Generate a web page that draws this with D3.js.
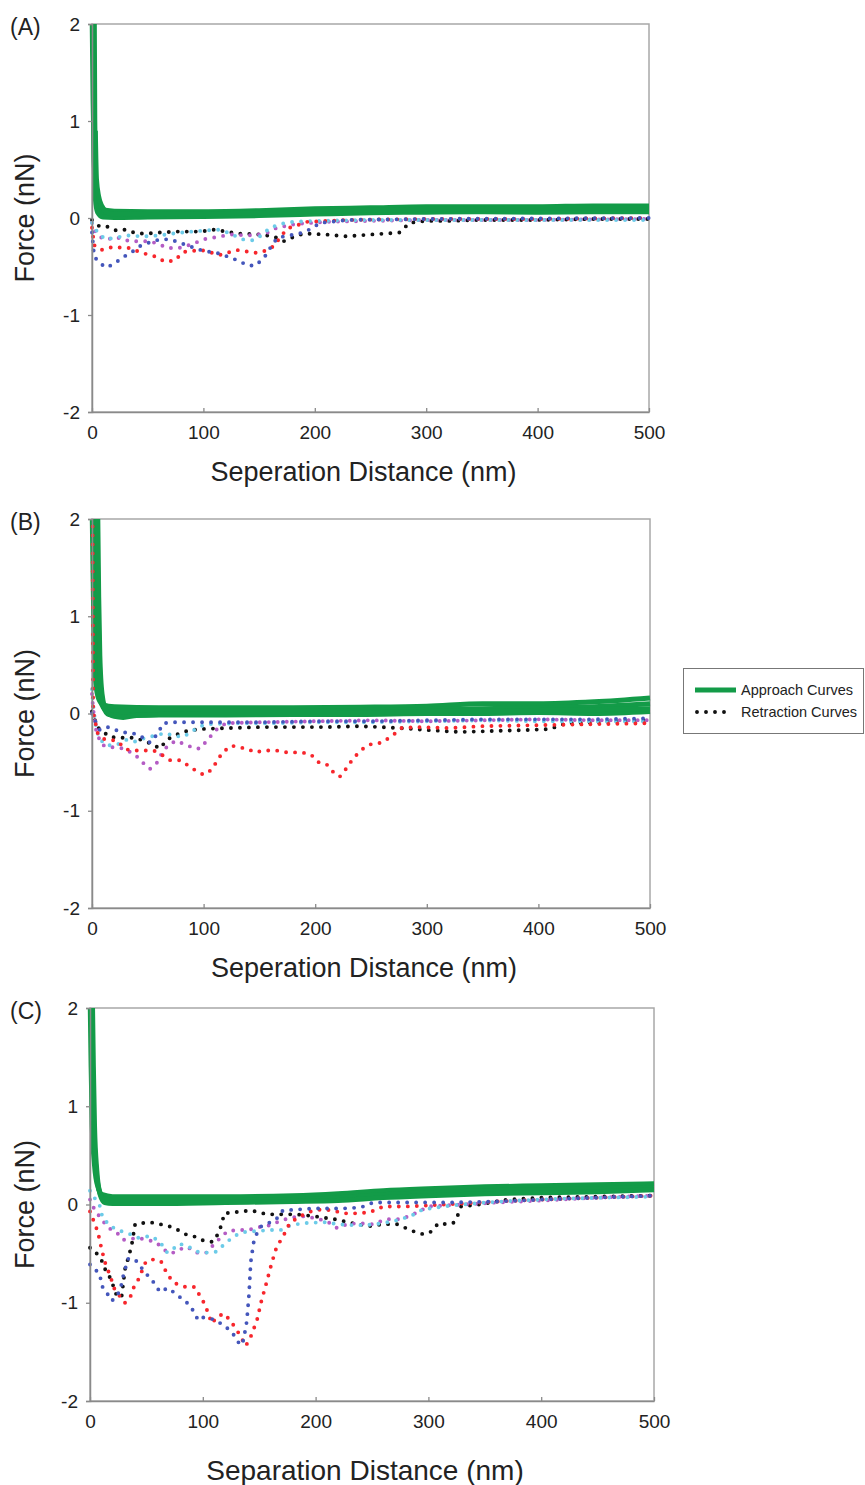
<!DOCTYPE html>
<html>
<head>
<meta charset="utf-8">
<script src="https://cdn.jsdelivr.net/npm/d3@7"></script>
<style>
body { margin: 0; background: #fff; }
svg { display: block; }
text { font-family: "Liberation Sans", Arial, sans-serif; fill: #222; }
</style>
</head>
<body>
<div id="chart"></div>
<script>
var width = 865;
var height = 1485;

var xTicks = [0, 100, 200, 300, 400, 500];
var yTicks = [-2, -1, 0, 1, 2];
var panelNames = ['(A)', '(B)', '(C)'];
var xTitles = ['Seperation Distance (nm)', 'Seperation Distance (nm)', 'Separation Distance (nm)'];
var yTitle = 'Force (nN)';
var legendLabels = ['Approach Curves', 'Retraction Curves'];

// approach curves, [distance nm, force nN]
var approachA1 = [[0,2.2],[1,1.2],[2,0.6],[3,0.35],[5,0.2],[8,0.12],[12,0.08],[20,0.07],[50,0.065],[100,0.065],[150,0.075],[200,0.095],[250,0.105],[300,0.115],[350,0.115],[400,0.115],[450,0.125],[500,0.125]];
var approachA2 = [[2,2.2],[2.5,1],[3,0.5],[4,0.25],[6,0.12],[10,0.05],[20,0.035],[60,0.035],[100,0.04],[150,0.05],[200,0.065],[250,0.075],[300,0.08],[350,0.085],[400,0.085],[450,0.09],[500,0.09]];
var approachA3 = [[1,2.2],[1.5,1.4],[2,0.6],[3,0.2],[5,0.06],[10,0.01],[20,0.005],[50,0.01],[100,0.015],[150,0.025],[200,0.04],[250,0.055],[300,0.06],[350,0.065],[400,0.06],[450,0.065],[500,0.065]];
var approachA4 = [[3,0.9],[4,0.4],[6,0.22],[9,0.12],[13,0.06],[20,0.04],[50,0.035],[100,0.04],[200,0.07],[300,0.09],[400,0.1],[500,0.1]];

var approachB1 = [[0,2.2],[1,1.4],[2,0.7],[3.5,0.3],[6,0.15],[10,0.09],[20,0.07],[60,0.06],[120,0.06],[180,0.06],[240,0.065],[300,0.075],[350,0.1],[400,0.1],[450,0.12],[500,0.16]];
var approachB2 = [[2,2.2],[3,1.5],[4,0.8],[5.5,0.35],[8,0.12],[12,0.04],[25,0.025],[60,0.025],[120,0.025],[180,0.025],[240,0.03],[300,0.04],[350,0.05],[400,0.06],[450,0.07],[500,0.1]];
var approachB3 = [[4,2.2],[5,1.5],[6,0.8],[7.5,0.3],[10,0.08],[15,-0.01],[25,-0.02],[60,-0.015],[120,-0.015],[180,-0.01],[240,-0.01],[300,0],[350,0],[400,0.01],[450,0],[500,0.02]];
var approachB4 = [[5,2.2],[6,1.2],[7,0.6],[9,0.2],[13,0.02],[20,-0.03],[28,-0.04],[40,-0.02],[100,0],[200,0],[300,0.02],[400,0.03],[500,0.05]];

var approachC1 = [[0,2.2],[1,1.4],[2,0.8],[4,0.4],[7,0.18],[11,0.1],[20,0.08],[60,0.08],[120,0.08],[180,0.09],[220,0.11],[260,0.14],[300,0.16],[350,0.18],[400,0.19],[450,0.2],[500,0.21]];
var approachC2 = [[1,2.2],[2,1.5],[3,0.9],[5,0.4],[8,0.15],[12,0.06],[20,0.04],[60,0.04],[120,0.04],[180,0.05],[220,0.07],[260,0.1],[300,0.12],[350,0.14],[400,0.15],[450,0.16],[500,0.17]];
var approachC3 = [[2,2.2],[3,1.4],[4,0.8],[6,0.35],[9,0.1],[13,0.02],[20,0.01],[60,0.01],[120,0.02],[180,0.03],[220,0.04],[260,0.07],[300,0.09],[350,0.11],[400,0.12],[450,0.13],[500,0.15]];

// retraction curves
var retA_black = [[0,-0.02],[7,-0.09],[15,-0.09],[22,-0.13],[30,-0.12],[40,-0.16],[49,-0.16],[60,-0.15],[75,-0.14],[97,-0.14],[110,-0.12],[120,-0.14],[131,-0.16],[150,-0.17],[163,-0.19],[172,-0.24],[180,-0.2],[190,-0.16],[210,-0.17],[229,-0.19],[250,-0.17],[265,-0.16],[276,-0.15],[285,-0.05],[300,-0.03],[320,-0.03],[350,-0.02],[400,-0.02],[450,-0.01],[500,-0.01]];
var retA_red = [[0,-0.1],[2,-0.28],[8,-0.33],[18,-0.3],[34,-0.31],[45,-0.36],[58,-0.4],[65,-0.45],[74,-0.44],[82,-0.35],[98,-0.33],[115,-0.38],[130,-0.33],[148,-0.36],[158,-0.33],[163,-0.29],[175,-0.11],[193,-0.04],[230,-0.02],[300,-0.01],[400,-0.01],[500,0]];
var retA_blue = [[0,-0.15],[2,-0.4],[7,-0.46],[12,-0.51],[19,-0.48],[27,-0.41],[36,-0.35],[43,-0.29],[52,-0.25],[61,-0.22],[70,-0.22],[80,-0.26],[90,-0.3],[100,-0.34],[112,-0.36],[125,-0.41],[133,-0.45],[140,-0.49],[147,-0.49],[155,-0.4],[161,-0.29],[166,-0.21],[175,-0.18],[184,-0.17],[195,-0.12],[205,-0.05],[230,-0.02],[300,-0.01],[500,0]];
var retA_purple = [[0,-0.05],[3,-0.15],[8,-0.2],[13,-0.22],[22,-0.2],[34,-0.24],[43,-0.24],[52,-0.24],[60,-0.27],[68,-0.31],[78,-0.31],[90,-0.27],[100,-0.22],[110,-0.2],[125,-0.17],[139,-0.18],[150,-0.17],[158,-0.15],[166,-0.1],[175,-0.08],[184,-0.06],[210,-0.04],[250,-0.03],[300,-0.02],[400,-0.02],[500,-0.01]];
var retA_cyan = [[0,-0.05],[5,-0.15],[12,-0.22],[22,-0.2],[32,-0.18],[45,-0.19],[60,-0.18],[80,-0.15],[100,-0.13],[113,-0.12],[122,-0.15],[135,-0.22],[145,-0.23],[152,-0.18],[160,-0.1],[170,-0.06],[180,-0.04],[200,-0.03],[250,-0.02],[300,-0.02],[400,-0.02],[500,-0.02]];

var retB_black = [[0,0.02],[2,-0.05],[5,-0.14],[8,-0.17],[16,-0.24],[24,-0.25],[31,-0.25],[39,-0.25],[46,-0.28],[53,-0.31],[61,-0.36],[67,-0.27],[75,-0.22],[85,-0.18],[97,-0.16],[120,-0.15],[150,-0.14],[180,-0.14],[210,-0.14],[240,-0.13],[276,-0.15],[300,-0.17],[330,-0.19],[360,-0.18],[390,-0.17],[410,-0.16],[425,-0.1],[450,-0.09],[475,-0.08],[500,-0.07]];
var retB_blue = [[0,0],[3,-0.08],[7,-0.17],[14,-0.14],[21,-0.17],[31,-0.2],[40,-0.21],[46,-0.25],[52,-0.3],[58,-0.22],[64,-0.1],[75,-0.09],[90,-0.09],[109,-0.09],[150,-0.09],[200,-0.08],[250,-0.08],[300,-0.07],[350,-0.06],[400,-0.06],[450,-0.06],[500,-0.05]];
var retB_cyan = [[0,0.25],[1,0.1],[3,-0.1],[6,-0.25],[12,-0.32],[18,-0.33],[25,-0.31],[31,-0.27],[38,-0.29],[45,-0.26],[52,-0.24],[59,-0.22],[66,-0.2],[73,-0.23],[82,-0.24],[90,-0.18],[97,-0.13],[104,-0.11],[130,-0.1],[160,-0.1],[200,-0.09],[250,-0.09],[300,-0.08],[350,-0.07],[400,-0.08],[450,-0.08],[500,-0.08]];
var retB_purple = [[0,0.2],[1,0.05],[4,-0.2],[9,-0.32],[13,-0.34],[20,-0.35],[28,-0.36],[35,-0.4],[41,-0.45],[46,-0.51],[52,-0.57],[58,-0.51],[63,-0.4],[68,-0.33],[75,-0.28],[84,-0.32],[92,-0.36],[97,-0.36],[105,-0.25],[112,-0.16],[120,-0.1],[150,-0.09],[200,-0.08],[250,-0.07],[300,-0.08],[350,-0.07],[400,-0.06],[450,-0.07],[500,-0.07]];
var retB_red = [[0.5,2.2],[1,0.02],[5,-0.2],[10,-0.26],[22,-0.28],[31,-0.37],[40,-0.38],[55,-0.38],[62,-0.42],[70,-0.48],[79,-0.48],[92,-0.58],[100,-0.63],[107,-0.58],[117,-0.4],[125,-0.33],[132,-0.35],[139,-0.36],[146,-0.4],[155,-0.38],[165,-0.38],[175,-0.4],[188,-0.4],[196,-0.42],[203,-0.5],[210,-0.52],[216,-0.6],[222,-0.65],[229,-0.55],[234,-0.46],[244,-0.35],[251,-0.31],[260,-0.3],[271,-0.21],[277,-0.15],[290,-0.14],[320,-0.15],[350,-0.13],[400,-0.12],[450,-0.11],[500,-0.1]];

var retC_black = [[0,-0.44],[4,-0.47],[10,-0.56],[13,-0.65],[18,-0.75],[21,-0.84],[24,-0.94],[28,-0.94],[31,-0.66],[35,-0.5],[37,-0.41],[40,-0.2],[46,-0.19],[53,-0.18],[62,-0.2],[70,-0.22],[78,-0.26],[86,-0.31],[94,-0.33],[101,-0.37],[109,-0.38],[114,-0.29],[117,-0.19],[119,-0.09],[127,-0.08],[143,-0.06],[157,-0.1],[170,-0.1],[183,-0.1],[199,-0.12],[217,-0.15],[232,-0.19],[248,-0.22],[260,-0.2],[272,-0.2],[286,-0.27],[294,-0.3],[301,-0.29],[309,-0.19],[316,-0.2],[322,-0.19],[326,-0.11],[329,-0.02],[345,0],[370,0.05],[400,0.07],[450,0.08],[500,0.09]];
var retC_red = [[0,-0.07],[4,-0.19],[7,-0.28],[9,-0.39],[13,-0.58],[18,-0.73],[22,-0.87],[27,-0.94],[31,-1.0],[35.5,-0.95],[38.5,-0.85],[43,-0.76],[49.6,-0.58],[56,-0.56],[63,-0.58],[69,-0.72],[75,-0.8],[85,-0.84],[93,-0.84],[102,-1.02],[108,-1.21],[113,-1.14],[119,-1.11],[125,-1.19],[133,-1.33],[138,-1.44],[142,-1.36],[148,-1.18],[152,-0.98],[156.6,-0.79],[161,-0.6],[165.5,-0.43],[171,-0.33],[177,-0.19],[186,-0.12],[196,-0.07],[205,-0.05],[215,-0.06],[225,-0.09],[235,-0.09],[248,-0.08],[260,-0.02],[280,-0.02],[300,-0.01],[330,0.01],[360,0.03],[400,0.05],[450,0.07],[500,0.09]];
var retC_blue = [[0,-0.61],[4,-0.65],[9,-0.72],[10,-0.82],[15,-0.9],[19,-0.98],[23,-0.95],[27,-0.86],[30,-0.7],[34,-0.55],[40,-0.56],[46.7,-0.66],[51,-0.72],[57,-0.8],[62,-0.89],[69,-0.85],[75,-0.9],[86,-1.0],[91.5,-1.08],[96,-1.18],[100,-1.15],[110,-1.17],[120,-1.24],[127,-1.32],[132,-1.41],[135,-1.43],[137,-1.32],[139,-1.19],[141,-0.91],[142,-0.69],[142.6,-0.58],[145,-0.39],[149,-0.26],[152,-0.22],[158,-0.19],[165,-0.15],[171,-0.06],[185,-0.05],[200,-0.04],[225,-0.04],[240,-0.03],[251,0.02],[280,0.02],[320,0.02],[360,0.03],[400,0.05],[450,0.07],[500,0.09]];
var retC_purple = [[0,0.05],[2,-0.01],[7,-0.1],[13,-0.19],[19,-0.26],[25,-0.3],[29.5,-0.36],[36,-0.35],[43,-0.34],[50,-0.36],[58,-0.38],[67,-0.47],[72,-0.5],[79,-0.46],[86,-0.43],[94,-0.49],[103,-0.49],[112,-0.38],[122,-0.27],[131,-0.26],[140,-0.26],[150,-0.23],[160,-0.21],[170,-0.16],[180,-0.13],[190,-0.12],[200,-0.14],[210,-0.17],[219,-0.24],[228,-0.2],[238,-0.19],[250,-0.2],[263,-0.15],[275,-0.15],[285,-0.11],[300,-0.02],[330,0],[360,0.02],[400,0.04],[450,0.07],[500,0.09]];
var retC_cyan = [[0,0.14],[5,0.05],[9,-0.02],[11,-0.13],[18,-0.22],[25,-0.26],[32,-0.29],[38,-0.31],[43,-0.34],[54,-0.32],[62,-0.38],[68.5,-0.49],[74,-0.45],[79,-0.4],[86,-0.42],[95,-0.48],[104,-0.49],[112,-0.48],[119.5,-0.4],[128,-0.32],[137,-0.28],[148,-0.27],[160,-0.26],[169,-0.26],[178,-0.21],[190,-0.19],[208,-0.18],[220,-0.2],[232,-0.21],[245,-0.21],[260,-0.19],[272,-0.16],[284,-0.12],[295,-0.05],[320,-0.01],[350,0.02],[380,0.04],[420,0.06],[460,0.07],[500,0.08]];

var green = '#139b48';
var retColors = { black: '#111', purple: '#b45cc4', cyan: '#6ccbe8', red: '#f7262c', blue: '#4456bb' };

var panels = [
    { left: 92, right: 649, top: 24, bottom: 412, titleGap: 69,
      approach: [approachA1, approachA2, approachA3, approachA4],
      retraction: [[retA_black, 'black'], [retA_purple, 'purple'], [retA_cyan, 'cyan'], [retA_red, 'red'], [retA_blue, 'blue']] },
    { left: 92, right: 650, top: 519, bottom: 908, titleGap: 69,
      approach: [approachB1, approachB2, approachB3, approachB4],
      retraction: [[retB_black, 'black'], [retB_purple, 'purple'], [retB_cyan, 'cyan'], [retB_blue, 'blue'], [retB_red, 'red']] },
    { left: 90, right: 654, top: 1008, bottom: 1401, titleGap: 79,
      approach: [approachC1, approachC2, approachC3],
      retraction: [[retC_black, 'black'], [retC_purple, 'purple'], [retC_cyan, 'cyan'], [retC_red, 'red'], [retC_blue, 'blue']] }
];

var svg = d3.select('#chart')
    .append('svg')
    .attr('width', width)
    .attr('height', height);

svg.append('rect')
    .attr('width', width)
    .attr('height', height)
    .style('fill', 'white');

panels.forEach(function (p, i) {
    var x = d3.scaleLinear().domain([0, 500]).range([p.left, p.right]);
    var y = d3.scaleLinear().domain([-2, 2]).range([p.bottom, p.top]);

    var clipId = 'clip' + i;
    svg.append('clipPath')
        .attr('id', clipId)
        .append('rect')
        .attr('x', p.left - 3)
        .attr('y', p.top)
        .attr('width', p.right - p.left + 6)
        .attr('height', p.bottom - p.top);

    // frame
    svg.append('rect')
        .attr('x', p.left)
        .attr('y', p.top)
        .attr('width', p.right - p.left)
        .attr('height', p.bottom - p.top)
        .style('fill', 'none')
        .style('stroke', '#a8a8a8')
        .style('stroke-width', 1.5);

    var plot = svg.append('g').attr('clip-path', 'url(#' + clipId + ')');

    var approachLine = d3.line()
        .x(function (d) { return x(d[0]); })
        .y(function (d) { return y(d[1]); })
        .curve(d3.curveMonotoneX);
    var retLine = d3.line()
        .x(function (d) { return x(d[0]); })
        .y(function (d) { return y(d[1]); });

    p.approach.forEach(function (series) {
        plot.append('path')
            .attr('d', approachLine(series))
            .style('fill', 'none')
            .style('stroke', green)
            .style('stroke-width', 5)
            .style('stroke-linejoin', 'round');
    });

    p.retraction.forEach(function (r) {
        plot.append('path')
            .attr('d', retLine(r[0]))
            .style('fill', 'none')
            .style('stroke', retColors[r[1]])
            .style('stroke-width', 3.9)
            .style('stroke-linecap', 'round')
            .style('stroke-dasharray', '0,9');
    });

    // axes
    var yAxis = svg.append('g')
        .attr('transform', 'translate(' + p.left + ',0)')
        .call(d3.axisLeft(y).tickValues(yTicks).tickSize(4).tickPadding(8)
            .tickFormat(function (d) { return String(d); }));
    var xAxis = svg.append('g')
        .attr('transform', 'translate(0,' + p.bottom + ')')
        .call(d3.axisBottom(x).tickValues(xTicks).tickSizeInner(-4).tickSizeOuter(0).tickPadding(14));
    [xAxis, yAxis].forEach(function (a) {
        a.select('.domain').style('stroke', '#8a8a8a').style('stroke-width', 1.5);
        a.selectAll('.tick line').style('stroke', '#8a8a8a').style('stroke-width', 1.3);
        a.selectAll('text')
            .style('font-size', '19px')
            .style('font-family', '"Liberation Sans", Arial, sans-serif')
            .style('fill', '#222');
    });

    svg.append('text')
        .attr('x', (p.left + p.right) / 2 - 7)
        .attr('y', p.bottom + p.titleGap)
        .attr('text-anchor', 'middle')
        .style('font-size', i == 2 ? '28px' : '27px')
        .text(xTitles[i]);

    svg.append('text')
        .attr('transform', 'translate(34,' + y(0) + ') rotate(-90)')
        .attr('text-anchor', 'middle')
        .style('font-size', '27px')
        .text(yTitle);

    svg.append('text')
        .attr('x', 10)
        .attr('y', p.top + 11)
        .style('font-size', '23px')
        .text(panelNames[i]);
});

// legend
var legend = svg.append('g');
legend.append('rect')
    .attr('x', 683.5)
    .attr('y', 668.5)
    .attr('width', 180)
    .attr('height', 65)
    .style('fill', 'white')
    .style('stroke', '#777')
    .style('stroke-width', 1);
legend.append('line')
    .attr('x1', 695).attr('x2', 736)
    .attr('y1', 690).attr('y2', 690)
    .style('stroke', green)
    .style('stroke-width', 5);
legend.append('line')
    .attr('x1', 697).attr('x2', 733)
    .attr('y1', 712).attr('y2', 712)
    .style('stroke', '#111')
    .style('stroke-width', 3.9)
    .style('stroke-linecap', 'round')
    .style('stroke-dasharray', '0,9');
legendLabels.forEach(function (t, k) {
    legend.append('text')
        .attr('x', 741)
        .attr('y', 695 + k * 22)
        .style('font-size', '14.5px')
        .text(t);
});
</script>
</body>
</html>
